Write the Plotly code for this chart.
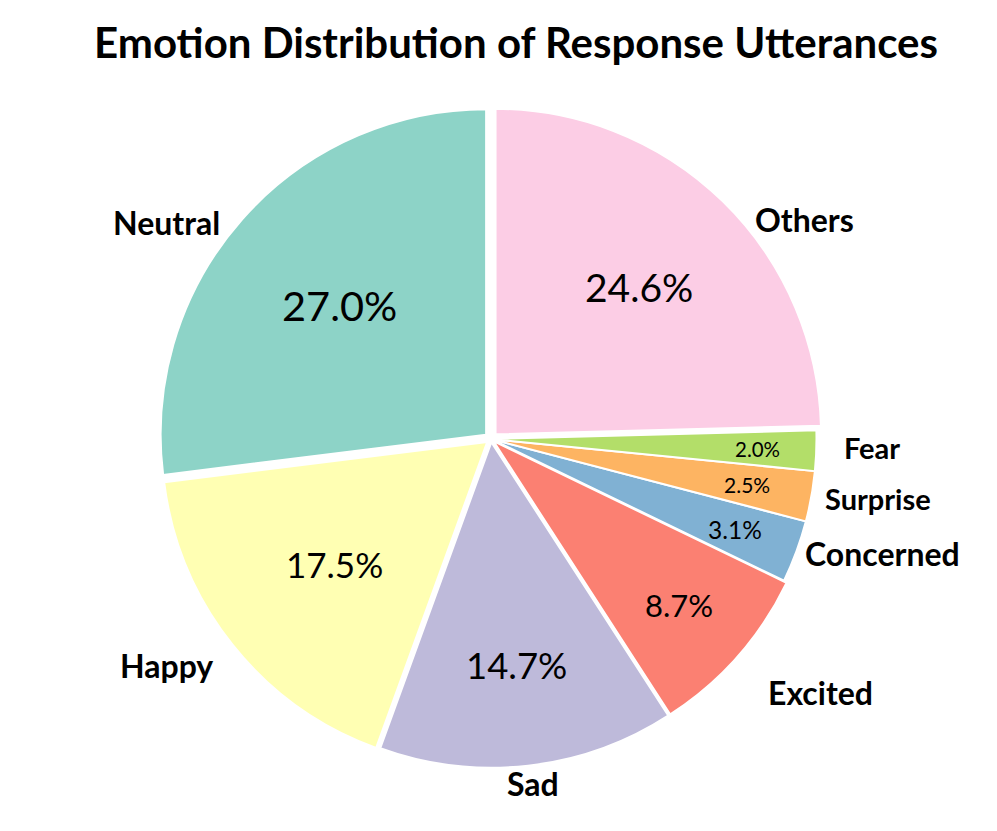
import math
import plotly.graph_objects as go

labels = ["Neutral", "Happy", "Sad", "Excited", "Concerned", "Surprise", "Fear", "Others"]
values = [27.0, 17.5, 14.7, 8.7, 3.1, 2.5, 2.0, 24.6]
colors = ["#8dd3c7", "#ffffb3", "#bebada", "#fb8072", "#80b1d3", "#fdb462", "#b3de69", "#fccde5"]

# styling (not data)
pulls = [0.02, 0.015, 0.01, 0.01, 0, 0, 0, 0.02]
pct_sizes = [41.5, 35, 36.5, 31, 24.5, 21, 20.5, 39]
pct_dist = [0.6, 0.6, 0.69, 0.76, 0.8, 0.8, 0.82, 0.63]
label_sizes = [32, 32, 32, 32, 32, 29, 29, 32]
label_dist = [1.04, 1.083, 1.056, 1.138, 1.02, 1.035, 1.08, 1.03]
label_turn = [2.6, 0.8, 0.5, -1.2, 0, 0, 0.7, -5.85]
label_anchor = ["right", "right", "center", "left", "left", "left", "left", "left"]

FONT = "Lato"
W, H = 997, 831
ML, MR, MT, MB = 150.5, 181.5, 98.5, 67.5

total = sum(values)
start_rot = -values[0] / total * 360.0  # first slice starts at 12 o'clock, CCW

fig = go.Figure()
fig.add_trace(go.Pie(
    labels=labels, values=values, sort=False, direction="counterclockwise",
    rotation=start_rot, pull=pulls,
    marker=dict(colors=colors, line=dict(color="white", width=2)),
    textinfo="none",
    showlegend=False, hoverinfo="label+percent",
))

pw, ph = W - ML - MR, H - MT - MB
R = min(pw, ph) / 2 / (1 + max(pulls))
cum = 0.0
for i, (lab, v) in enumerate(zip(labels, values)):
    mid = 90.0 + (cum + v / 2) / total * 360.0
    cum += v
    p = pulls[i]
    # percentage inside the slice
    rr = (pct_dist[i] + p) * R
    a = math.radians(mid)
    fig.add_annotation(
        x=0.5 + rr * math.cos(a) / pw, y=0.5 + rr * math.sin(a) / ph,
        xref="paper", yref="paper", text=f"{v / total * 100:.1f}%", showarrow=False,
        xanchor="center", yanchor="middle",
        font=dict(family=FONT, size=pct_sizes[i], color="black"),
    )
    # category label outside the slice
    rl = (label_dist[i] + p) * R
    b = math.radians(mid + label_turn[i])
    fig.add_annotation(
        x=0.5 + rl * math.cos(b) / pw, y=0.5 + rl * math.sin(b) / ph,
        xref="paper", yref="paper", text=f"<b>{lab}</b>", showarrow=False,
        xanchor=label_anchor[i], yanchor="middle",
        font=dict(family=FONT, size=label_sizes[i], color="black"),
    )

fig.update_layout(
    width=W, height=H,
    margin=dict(l=ML, r=MR, t=MT, b=MB),
    paper_bgcolor="white", plot_bgcolor="white",
    title=dict(text="<b>Emotion Distribution of Response Utterances</b>",
               x=0.5095, xanchor="center", y=0.958, yanchor="middle",
               font=dict(family=FONT, size=42, color="black")),
)
fig.write_html("out.html")
